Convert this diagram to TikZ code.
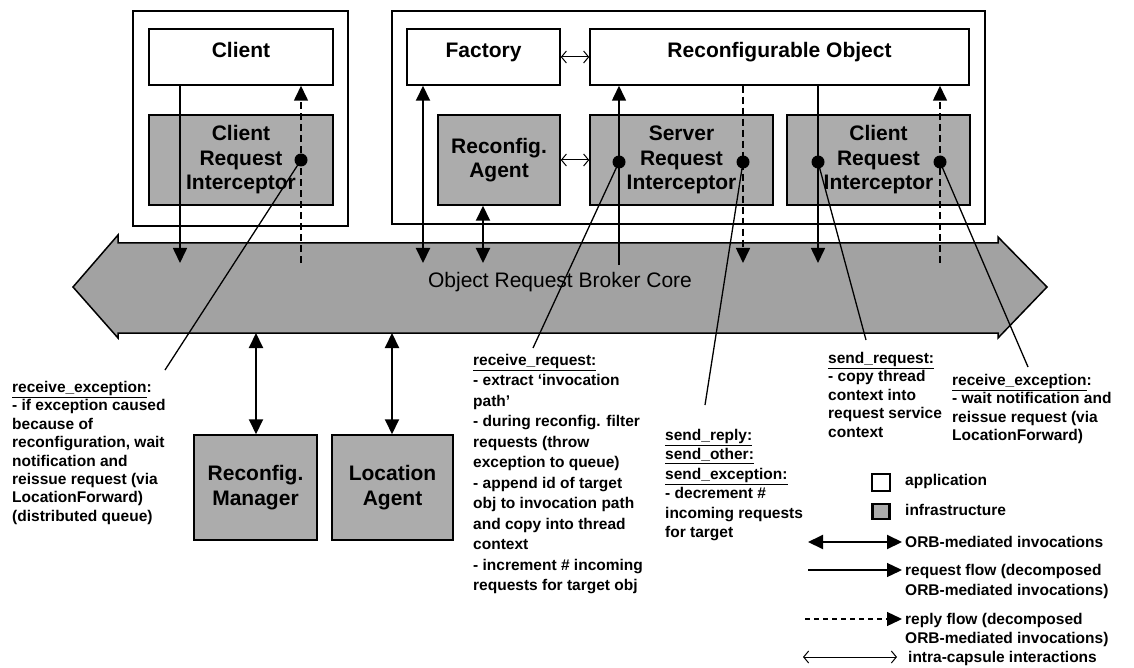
\documentclass[tikz,border=0pt]{standalone}
\usepackage{fontspec}
\setmainfont{Liberation Sans}
\usetikzlibrary{arrows.meta}
\definecolor{infra}{RGB}{172,172,172}
\definecolor{orbgray}{RGB}{162,162,162}
\newcommand\dgBoxFont{\fontsize{21}{24.5}\selectfont\bfseries}
\newcommand\dgNoteFont{\fontsize{15.5}{18.4}\selectfont\bfseries}
\begin{document}
\begin{tikzpicture}[x=1pt,y=-1pt,
  appbox/.style={draw, line width=1.5pt, fill=white, inner sep=0pt},
  infbox/.style={draw, line width=1.5pt, fill=infra, inner sep=0pt,
    font=\dgBoxFont, align=center},
  boxtitle/.style={font=\dgBoxFont, text height=15pt, text depth=14pt},
  dot/.style={circle, fill=black, inner sep=0pt, minimum size=13pt},
  reqflow/.style={line width=1.6pt, -{Triangle[length=15pt,width=14pt]}},
  repflow/.style={line width=1.6pt, dash pattern=on 7pt off 4pt,
    -{Triangle[length=15pt,width=14pt]}},
  orbinv/.style={line width=2pt,
    {Triangle[length=15pt,width=14pt]}-{Triangle[length=15pt,width=14pt]}},
  intra/.style={line width=1pt,
    {Straight Barb[length=5pt,width=12pt]}-{Straight Barb[length=5pt,width=12pt]}},
  leader/.style={line width=1.3pt},
  note/.style={font=\dgNoteFont, align=left, anchor=north west, inner sep=0pt},
  keytext/.style={font=\dgNoteFont, anchor=base west, inner sep=0pt}
]
\path[fill=white, use as bounding box] (0,0) rectangle (1134,668);

% ---- object request broker core (double-headed band) ----
\path[fill=orbgray, draw=black, line width=1.5pt]
  (73,287) -- (118,235) -- (118,243) -- (998,243) -- (998,237) -- (1047,287)
  -- (998,338) -- (998,333) -- (118,333) -- (118,338) -- cycle;
\node[font=\fontsize{21}{24}\selectfont] (orb) at (560,282) {Object Request Broker Core};

% ---- client capsule ----
\node[appbox, minimum width=215pt, minimum height=215pt] (capL) at (240.5,118.5) {};
\node[appbox, boxtitle, minimum width=184pt, minimum height=56pt] (client) at (241,57) {Client};
\node[infbox, minimum width=184pt, minimum height=90pt] (cri1) at (241,160)
  {Client\\Request\\Interceptor};

% ---- server capsule ----
\node[appbox, minimum width=593pt, minimum height=213pt] (capR) at (688.5,117.5) {};
\node[appbox, boxtitle, minimum width=153pt, minimum height=56pt] (factory) at (483.5,57) {Factory};
\node[appbox, boxtitle, minimum width=379pt, minimum height=56pt] (recobj) at (779.5,57)
  {Reconfigurable Object};
\node[infbox, minimum width=122pt, minimum height=90pt] (ragent) at (499,160)
  {Reconfig.\\Agent};
\node[infbox, minimum width=183pt, minimum height=90pt] (sri) at (681.5,160)
  {Server\\Request\\Interceptor};
\node[infbox, minimum width=183pt, minimum height=90pt] (cri2) at (878.5,160)
  {Client\\Request\\Interceptor};

% ---- services below the broker ----
\node[infbox, minimum width=123pt, minimum height=105pt] (rmgr) at (255.5,487.5)
  {Reconfig.\\Manager};
\node[infbox, minimum width=121pt, minimum height=105pt] (lagent) at (392.5,487.5)
  {Location\\Agent};

% ---- points where flows meet the broker ----
\coordinate (oc1) at (180,263);
\coordinate (oc2) at (301,263);
\coordinate (of)  at (423,263);
\coordinate (oa)  at (483,263);
\coordinate (os1) at (619,265);
\coordinate (os2) at (743,263);
\coordinate (oc3) at (818,263);
\coordinate (oc4) at (940,263);
\coordinate (om)  at (256,333);
\coordinate (ol)  at (392,333);

% ---- intra-capsule interactions ----
\draw[intra] (factory.east) -- (recobj.west);
\draw[intra] (ragent.east) -- (sri.west);

% ---- ORB-mediated invocations ----
\draw[orbinv] (factory.south -| of) -- (of);
\draw[orbinv] (ragent.south -| oa) -- (oa);
\draw[orbinv] (om) -- (rmgr.north -| om);
\draw[orbinv] (ol) -- (lagent.north -| ol);

% ---- request / reply flows ----
\draw[reqflow] (client.south -| oc1) -- (oc1);
\draw[repflow] (oc2) -- (client.south -| oc2);
\draw[reqflow] (os1) -- (recobj.south -| os1);
\draw[repflow] (recobj.south -| os2) -- (os2);
\draw[reqflow] (recobj.south -| oc3) -- (oc3);
\draw[repflow] (oc4) -- (recobj.south -| oc4);

% ---- interception points ----
\node[dot] (d1) at (301,160) {};
\node[dot] (d2) at (619,162) {};
\node[dot] (d3) at (743,162) {};
\node[dot] (d4) at (818,162) {};
\node[dot] (d5) at (940,162) {};

% ---- annotations ----
\coordinate (l1) at (165,370);
\coordinate (l2) at (533,348);
\coordinate (l3) at (705,405);
\coordinate (l4) at (866,340);
\coordinate (l5) at (1028,367);
\draw[leader] (d1.center) -- (l1);
\draw[leader] (d2.center) -- (l2);
\draw[leader] (d3.center) -- (l3);
\draw[leader] (d4.center) -- (l4);
\draw[leader] (d5.center) -- (l5);

\node[note] (n1) at (12,381) {\underline{receive\_exception}:\\
  - if exception caused\\ because of\\ reconfiguration, wait\\ notification and\\
  reissue request (via\\ LocationForward)\\ (distributed queue)};
\node[note, font=\fontsize{15.5}{20.5}\selectfont\bfseries] (n2) at (473,354)
  {\underline{receive\_request:}\\ - extract ‘invocation\\ path’\\
  - during reconfig. filter\\ requests (throw\\ exception to queue)\\
  - append id of target\\ obj to invocation path\\ and copy into thread\\
  context\\ - increment \# incoming\\ requests for target obj};
\node[note, font=\fontsize{15.5}{19.4}\selectfont\bfseries] (n3) at (665,429)
  {\underline{send\_reply:}\\ \underline{send\_other:}\\ \underline{send\_exception:}\\
  - decrement \#\\ incoming requests\\ for target};
\node[note] (n4) at (828,352) {\underline{send\_request:}\\ - copy thread\\
  context into\\ request service\\ context};
\node[note] (n5) at (952,374) {\underline{receive\_exception}:\\
  - wait notification and\\ reissue request (via\\ LocationForward)};

% ---- legend ----
\node[appbox, minimum width=18pt, minimum height=17pt] (kapp) at (881,482.5) {};
\node[draw, line width=2.5pt, fill=infra, minimum width=17pt, minimum height=15pt,
  inner sep=0pt] (kinf) at (881,511.5) {};
\node[keytext] (tapp) at (905,485) {application};
\node[keytext] (tinf) at (905,515) {infrastructure};

\coordinate (k1a) at (808,542);  \coordinate (k1b) at (902,542);
\coordinate (k2a) at (808,570);  \coordinate (k2b) at (902,570);
\coordinate (k3a) at (805,619);  \coordinate (k3b) at (902,619);
\coordinate (k4a) at (803,657);  \coordinate (k4b) at (897,657);
\draw[orbinv] (k1a) -- (k1b);
\draw[reqflow, line width=1.3pt] (k2a) -- (k2b);
\draw[repflow, line width=1.3pt, dash pattern=on 5pt off 4pt] (k3a) -- (k3b);
\draw[intra] (k4a) -- (k4b);
\node[keytext] (t1) at (905,547) {ORB-mediated invocations};
\node[note, font=\fontsize{15.5}{20}\selectfont\bfseries] (t2) at (905,564)
  {request flow (decomposed\\ ORB-mediated invocations)};
\node[note, font=\fontsize{15.5}{19}\selectfont\bfseries] (t3) at (905,613)
  {reply flow (decomposed\\ ORB-mediated invocations)};
\node[keytext] (t4) at (908,662) {intra-capsule interactions};
\end{tikzpicture}
\end{document}
